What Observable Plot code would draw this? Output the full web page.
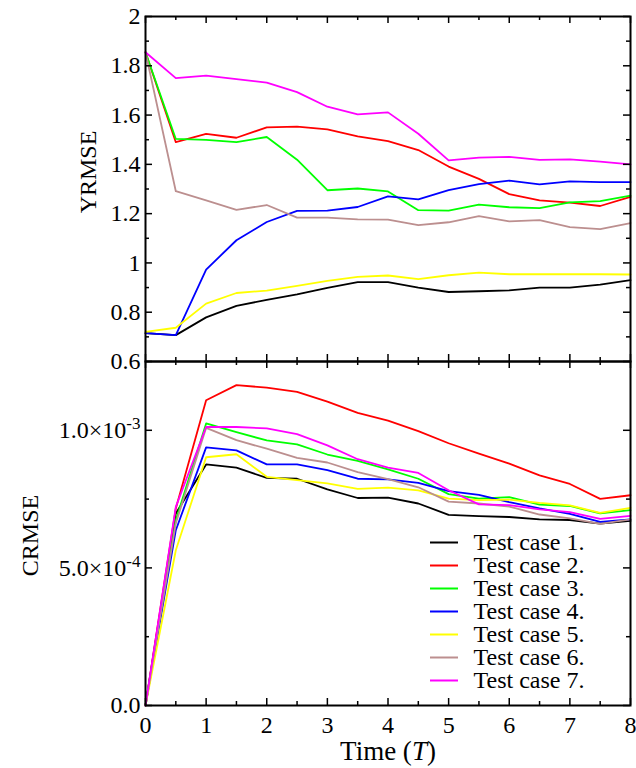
<!DOCTYPE html>
<html>
<head>
<meta charset="utf-8">
<script src="https://cdn.jsdelivr.net/npm/d3@7"></script>
<script src="https://cdn.jsdelivr.net/npm/@observablehq/plot@0.6"></script>
<style>
  html, body { margin: 0; padding: 0; background: white; }
  #chart { position: relative; width: 636px; height: 768px; }
  #chart svg { display: block; }
  #legend { position: absolute; left: 425px; top: 525px; }
</style>
</head>
<body>
<div id="chart"></div>
<script>
// Sampling times (in units of T)
const times = [0, 0.5, 1, 1.5, 2, 2.5, 3, 3.5, 4, 4.5, 5, 5.5, 6, 6.5, 7, 7.5, 8];

const names = ["Test case 1.", "Test case 2.", "Test case 3.", "Test case 4.",
               "Test case 5.", "Test case 6.", "Test case 7."];
const colors = ["#000000", "#ff0000", "#00ff00", "#0000ff", "#ffff00", "#bc8f8f", "#ff00ff"];

// YRMSE per test case
const yrmse1 = [0.715, 0.707, 0.779, 0.826, 0.850, 0.872, 0.899, 0.922, 0.922, 0.900, 0.882, 0.885, 0.889, 0.900, 0.900, 0.912, 0.930];
const yrmse2 = [1.855, 1.490, 1.524, 1.508, 1.550, 1.553, 1.542, 1.514, 1.494, 1.458, 1.391, 1.341, 1.279, 1.254, 1.245, 1.231, 1.268];
const yrmse3 = [1.855, 1.503, 1.499, 1.490, 1.511, 1.419, 1.295, 1.302, 1.290, 1.214, 1.212, 1.237, 1.226, 1.222, 1.246, 1.251, 1.273];
const yrmse4 = [0.715, 0.707, 0.973, 1.092, 1.166, 1.211, 1.212, 1.227, 1.270, 1.258, 1.295, 1.320, 1.334, 1.319, 1.331, 1.328, 1.328];
const yrmse5 = [0.720, 0.737, 0.835, 0.878, 0.888, 0.907, 0.927, 0.943, 0.949, 0.934, 0.950, 0.961, 0.954, 0.954, 0.954, 0.954, 0.953];
const yrmse6 = [1.855, 1.291, 1.254, 1.215, 1.235, 1.184, 1.184, 1.177, 1.176, 1.153, 1.165, 1.190, 1.169, 1.174, 1.145, 1.137, 1.162];
const yrmse7 = [1.855, 1.750, 1.760, 1.746, 1.732, 1.693, 1.634, 1.603, 1.611, 1.524, 1.416, 1.427, 1.430, 1.418, 1.420, 1.411, 1.400];

// CRMSE per test case, in units of 1e-3
const crmse1 = [0, 0.698, 0.876, 0.864, 0.827, 0.824, 0.785, 0.754, 0.755, 0.734, 0.693, 0.688, 0.685, 0.676, 0.674, 0.661, 0.671];
const crmse2 = [0, 0.716, 1.109, 1.164, 1.155, 1.140, 1.104, 1.063, 1.035, 0.997, 0.953, 0.915, 0.879, 0.836, 0.805, 0.751, 0.764];
const crmse3 = [0, 0.673, 1.025, 0.993, 0.963, 0.949, 0.912, 0.889, 0.858, 0.824, 0.768, 0.752, 0.757, 0.730, 0.725, 0.698, 0.710];
const crmse4 = [0, 0.637, 0.938, 0.927, 0.876, 0.876, 0.855, 0.824, 0.822, 0.809, 0.779, 0.765, 0.739, 0.716, 0.696, 0.667, 0.676];
const crmse5 = [0, 0.564, 0.902, 0.913, 0.831, 0.819, 0.807, 0.787, 0.792, 0.782, 0.752, 0.746, 0.748, 0.736, 0.727, 0.700, 0.718];
const crmse6 = [0, 0.662, 1.009, 0.964, 0.933, 0.900, 0.883, 0.848, 0.823, 0.793, 0.741, 0.734, 0.723, 0.694, 0.680, 0.660, 0.676];
const crmse7 = [0, 0.722, 1.012, 1.012, 1.007, 0.986, 0.945, 0.895, 0.864, 0.845, 0.782, 0.731, 0.728, 0.713, 0.703, 0.678, 0.689];

// Tick positions
const xMajor = [0, 1, 2, 3, 4, 5, 6, 7, 8];
const xMinor = [0.5, 1.5, 2.5, 3.5, 4.5, 5.5, 6.5, 7.5];
const yTopMajor = [0.6, 0.8, 1, 1.2, 1.4, 1.6, 1.8, 2];
const yTopMinor = [0.7, 0.9, 1.1, 1.3, 1.5, 1.7, 1.9];
const yBotMajor = [0, 0.5, 1];
const yBotMinor = [0.25, 0.75];
const yBotLabels = ["0.0", "5.0×10|-4", "1.0×10|-3"];

const ySeries = [yrmse1, yrmse2, yrmse3, yrmse4, yrmse5, yrmse6, yrmse7];
const cSeries = [crmse1, crmse2, crmse3, crmse4, crmse5, crmse6, crmse7];

const toRows = (series) => series.flatMap((vals, k) =>
  vals.map((v, i) => ({t: times[i], v, name: names[k]})));
const yRows = toRows(ySeries);
const cRows = toRows(cSeries);

const W = 636, ML = 145, MR = 6;
const frameW = W - ML - MR;
const font = "'Liberation Serif', 'Times New Roman', serif";
const baseStyle = {fontFamily: font, fontSize: "24px", background: "transparent", overflow: "visible", color: "black"};
const colorScale = {domain: names, range: colors};

// Inward ticks on all four sides of a panel
function tickMarks(frameH, yMaj, yMin) {
  const tk = {stroke: "black", strokeWidth: 1.5};
  const maj = 7, min = 4;
  return [
    Plot.ruleX(xMajor, {x: d => d, insetTop: frameH - maj, ...tk}),
    Plot.ruleX(xMajor, {x: d => d, insetBottom: frameH - maj, ...tk}),
    Plot.ruleX(xMinor, {x: d => d, insetTop: frameH - min, ...tk}),
    Plot.ruleX(xMinor, {x: d => d, insetBottom: frameH - min, ...tk}),
    Plot.ruleY(yMaj, {y: d => d, insetRight: frameW - maj, ...tk}),
    Plot.ruleY(yMaj, {y: d => d, insetLeft: frameW - maj, ...tk}),
    Plot.ruleY(yMin, {y: d => d, insetRight: frameW - min, ...tk}),
    Plot.ruleY(yMin, {y: d => d, insetLeft: frameW - min, ...tk})
  ];
}

const topH = 361, topMT = 16;
const topPanel = Plot.plot({
  width: W, height: topH, marginTop: topMT, marginBottom: 0, marginLeft: ML, marginRight: MR,
  style: baseStyle,
  x: {domain: [0, 8], axis: null},
  y: {domain: [0.6, 2]},
  color: colorScale,
  marks: [
    Plot.line(yRows, {x: "t", y: "v", z: "name", stroke: "name", strokeWidth: 1.8}),
    ...tickMarks(topH - topMT, yTopMajor, yTopMinor),
    Plot.frame({stroke: "black", strokeWidth: 2}),
    Plot.axisY(yTopMajor, {tickSize: 0, tickPadding: 5, tickFormat: d => String(d), label: null}),
    Plot.text(["YRMSE"], {text: d => d, frameAnchor: "left", textAnchor: "middle", lineAnchor: "middle",
                          dx: -57, dy: -17, rotate: -90})
  ]
});

const botH = 407, botMB = 63;
const bottomPanel = Plot.plot({
  width: W, height: botH, marginTop: 0, marginBottom: botMB, marginLeft: ML, marginRight: MR,
  style: baseStyle,
  x: {domain: [0, 8]},
  y: {domain: [0, 1.25]},
  color: colorScale,
  marks: [
    Plot.line(cRows, {x: "t", y: "v", z: "name", stroke: "name", strokeWidth: 1.8}),
    ...tickMarks(botH - botMB, yBotMajor, yBotMinor),
    Plot.frame({stroke: "black", strokeWidth: 2}),
    Plot.axisY(yBotMajor, {tickSize: 0, tickPadding: 5, tickFormat: (d, i) => yBotLabels[i], label: null}),
    Plot.axisX(xMajor, {tickSize: 0, tickPadding: 10, tickFormat: d => String(d), label: null}),
    Plot.text(["CRMSE"], {text: d => d, frameAnchor: "left", textAnchor: "middle", lineAnchor: "middle",
                          dx: -115, dy: 2, rotate: -90}),
    Plot.text(["Time (T)"], {text: d => d, frameAnchor: "bottom", textAnchor: "middle", lineAnchor: "middle",
                             dy: 46, fontSize: 27})
  ]
});

// Superscript exponents on the CRMSE tick labels, italic T in the time label
d3.select(bottomPanel).selectAll("text").each(function() {
  const s = this.textContent;
  if (s.includes("|")) {
    const [base, exp] = s.split("|");
    const el = d3.select(this).text(null);
    el.append("tspan").text(base);
    el.append("tspan").attr("dy", "-0.5em").attr("font-size", "17px").text(exp);
  } else if (s === "Time (T)") {
    const el = d3.select(this).text(null);
    el.append("tspan").text("Time (");
    el.append("tspan").attr("font-style", "italic").text("T");
    el.append("tspan").text(")");
  }
});

// Legend: short line swatch followed by the case name
const legendPanel = Plot.plot({
  width: 220, height: 170, margin: 0,
  style: {...baseStyle},
  x: {domain: [0, 1], range: [5, 33], axis: null},
  y: {type: "point", domain: names, range: [15.3, 157.3], padding: 0, axis: null},
  color: colorScale,
  marks: [
    Plot.ruleY(names, {y: d => d, x1: 0, x2: 1, stroke: d => d, strokeWidth: 2}),
    Plot.text(names, {y: d => d, x: 1, dx: 15, text: d => d, textAnchor: "start", fill: "black"})
  ]
});
legendPanel.id = "legend";

const chart = document.getElementById("chart");
chart.append(topPanel, bottomPanel, legendPanel);
</script>
</body>
</html>
